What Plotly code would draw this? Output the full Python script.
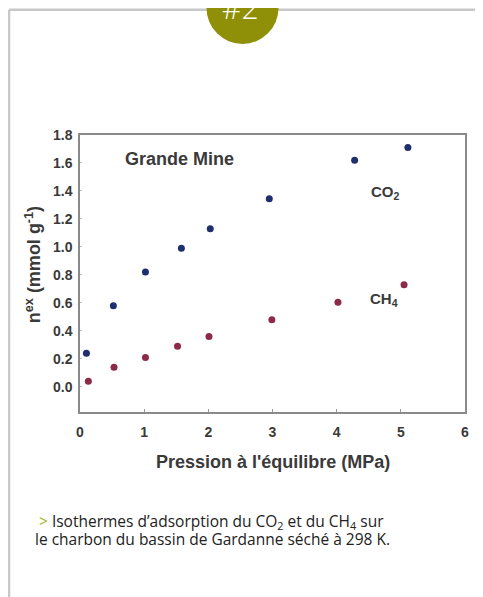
import plotly.graph_objects as go

# Data
p_co2 = [0.10, 0.52, 1.02, 1.58, 2.03, 2.95, 4.28, 5.11]
n_co2 = [0.24, 0.58, 0.82, 0.99, 1.13, 1.345, 1.62, 1.71]
p_ch4 = [0.13, 0.53, 1.02, 1.52, 2.01, 2.99, 4.02, 5.05]
n_ch4 = [0.04, 0.14, 0.21, 0.29, 0.36, 0.48, 0.605, 0.73]
x_ticks = [0, 1, 2, 3, 4, 5, 6]
y_ticks = [0.0, 0.2, 0.4, 0.6, 0.8, 1.0, 1.2, 1.4, 1.6, 1.8]

OFF = 8  # browser body margin
W, H = 483 - OFF, 597 - OFF
# plot area in reference pixels: x 80..465, y 135..411.7
L = 80 - OFF
R = 483 - 465
T = 135 - OFF
B = 597 - 411.7
pw, ph = W - L - R, H - T - B

def px(x):  # reference pixel -> paper x
    return (x - OFF - L) / pw

def py(y):  # reference pixel -> paper y
    return (H - B - (y - OFF)) / ph

fig = go.Figure()
fig.add_trace(go.Scatter(x=p_co2, y=n_co2, mode="markers", name="CO2",
                         marker=dict(color="#1f2f6e", size=7), cliponaxis=False))
fig.add_trace(go.Scatter(x=p_ch4, y=n_ch4, mode="markers", name="CH4",
                         marker=dict(color="#8c2b47", size=7), cliponaxis=False))

FONT = "Liberation Sans, Arial, sans-serif"
TXT = "#3a3a3a"
tickfont = dict(family=FONT, size=14, color=TXT, weight="bold")

fig.update_layout(
    width=W, height=H,
    margin=dict(l=L, r=R, t=T, b=B, pad=0),
    paper_bgcolor="white", plot_bgcolor="white",
    showlegend=False,
    font=dict(family=FONT, color=TXT),
    xaxis=dict(range=[0, 6], tickvals=x_ticks, ticks="inside", ticklen=3,
               tickcolor="#999999", showgrid=False, zeroline=False,
               showline=True, linecolor="#8a8a8a", linewidth=1.5, mirror=True,
               tickfont=tickfont, ticklabelstandoff=6, fixedrange=True),
    yaxis=dict(range=[-0.18, 1.8], tickvals=y_ticks,
               ticktext=[f"{v:.1f}" for v in y_ticks], ticks="inside", ticklen=2,
               tickcolor="#bbbbbb", showgrid=False,
               zeroline=False, showline=True, linecolor="#8a8a8a", linewidth=1.5,
               mirror=True, ticklabelstandoff=3,
               tickfont=tickfont, fixedrange=True),
)

# Frame and badge
fig.add_shape(type="line", xref="paper", yref="paper", x0=px(9), x1=px(9),
              y0=py(10), y1=py(597), line=dict(color="#c8c8c8", width=2.5))
fig.add_shape(type="line", xref="paper", yref="paper", x0=px(9), x1=px(480),
              y0=py(10), y1=py(10), line=dict(color="#c8c8c8", width=2.5))
fig.add_shape(type="circle", xref="paper", yref="paper",
              x0=px(206.5), x1=px(278.5), y0=py(44), y1=py(-28),
              fillcolor="#8f8f08", line=dict(width=0))

ann = [
    dict(x=px(240), y=py(8), text="#2",
         font=dict(family="Open Sans", size=30, color="white", weight=300)),
    dict(x=px(179), y=py(159), text="Grande Mine",
         font=dict(size=18, color=TXT, weight="bold")),
    dict(x=px(385), y=py(192), text="CO<sub>2</sub>",
         font=dict(size=15, color=TXT, weight="bold")),
    dict(x=px(384), y=py(299), text="CH<sub>4</sub>",
         font=dict(size=15, color=TXT, weight="bold")),
    dict(x=px(273), y=py(462), text="Pression à l'équilibre (MPa)",
         font=dict(size=18, color=TXT, weight="bold")),
    dict(x=px(33), y=py(265), text="n<sup>ex</sup> (mmol g<sup>-1</sup>)", textangle=-90,
         font=dict(size=18, color=TXT, weight="bold")),
    dict(x=px(37), y=py(521), xanchor="left",
         text="<span style='color:#a3b521'>></span> Isothermes d’adsorption du CO<sub>2</sub> et du CH<sub>4</sub> sur",
         font=dict(family="Open Sans", size=15.5, color="#222222")),
    dict(x=px(33), y=py(539), xanchor="left",
         text="le charbon du bassin de Gardanne séché à 298 K.",
         font=dict(family="Open Sans", size=15.5, color="#222222")),
]
for a in ann:
    a.setdefault("xref", "paper")
    a.setdefault("yref", "paper")
    a.setdefault("xanchor", "center")
    a.setdefault("yanchor", "middle")
    a["showarrow"] = False
    fig.add_annotation(**a)

fig.write_html("out.html", config={"displayModeBar": False})
